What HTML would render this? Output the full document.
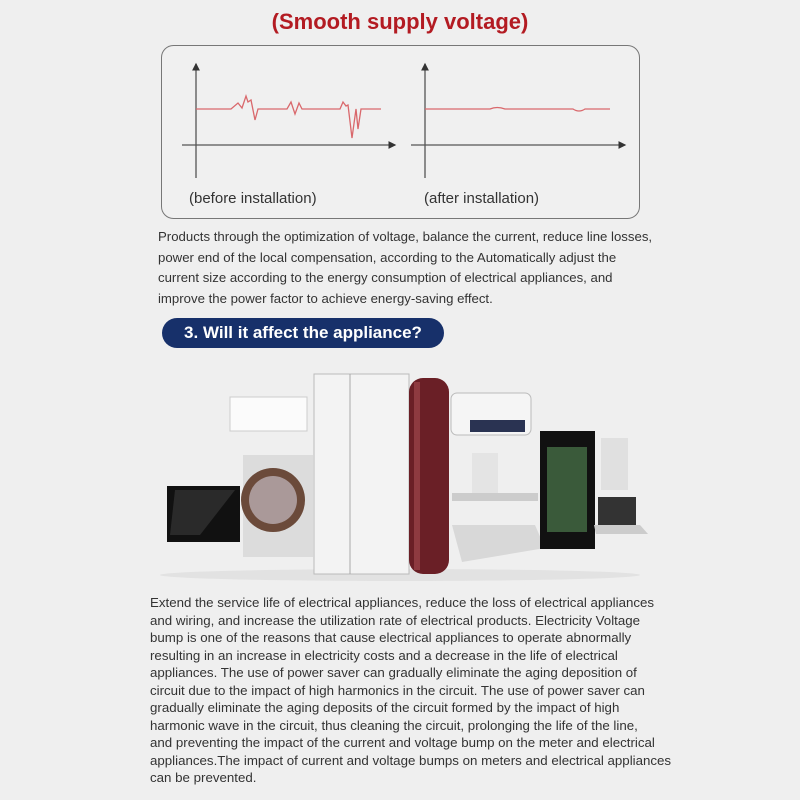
<!DOCTYPE html>
<html><head><style>
body{margin:0;width:800px;height:800px;background:#efefef;overflow:hidden;position:relative;font-family:"Liberation Sans",sans-serif}
.t{position:absolute;left:0;width:800px;top:9px;text-align:center;color:#b31b22;font-size:22px;font-weight:bold}
.p1{position:absolute;left:158px;top:227px;white-space:nowrap;font-size:13.2px;line-height:20.7px;color:#333}
.btn{position:absolute;left:162px;top:318px;width:282px;height:30px;border-radius:15px;background:#17306a;color:#fff;font-weight:bold;font-size:17px;line-height:30px;text-align:center}
.p2{position:absolute;left:150px;top:594px;white-space:nowrap;font-size:13.3px;line-height:17.5px;color:#333}
</style></head><body>
<div class="t">(Smooth supply voltage)</div>
<svg width="800" height="800" style="position:absolute;left:0;top:0">
<defs><marker id="a" markerWidth="6" markerHeight="6" refX="5" refY="3" orient="auto"><path d="M0,0L6,3L0,6z" fill="#333"/></marker></defs>
<rect x="161.5" y="45.5" width="478" height="173" rx="12" fill="#f0f0f0" stroke="#777"/>
<g stroke="#555" stroke-width="1.3" fill="none">
<line x1="196" y1="178" x2="196" y2="64" marker-end="url(#a)"/>
<line x1="182" y1="145" x2="395" y2="145" marker-end="url(#a)"/>
<line x1="425" y1="178" x2="425" y2="64" marker-end="url(#a)"/>
<line x1="411" y1="145" x2="625" y2="145" marker-end="url(#a)"/>
</g>
<g stroke="#d9686c" stroke-width="1.3" fill="none">
<polyline points="196,109 231,109 238,103 242,108 246,96 248,102 251,100 255,120 258,109 287,109 291,102 295,114 299,103 302,109 340,109 343,102 346,106 348,105 352,138 356,109 358,129 361,109 381,109"/>
<path d="M425,109 L490,109 Q497,106 505,109 L573,109 Q579,113 585,109 L610,109"/>
</g>
<text x="189" y="203" font-size="15" fill="#333" font-family="Liberation Sans">(before installation)</text>
<text x="424" y="203" font-size="15" fill="#333" font-family="Liberation Sans">(after installation)</text>
<ellipse cx="400" cy="575" rx="240" ry="6" fill="#e2e2e2"/>
<rect x="167" y="486" width="73" height="56" fill="#111"/>
<polygon points="175,490 235,490 200,535 170,535" fill="#2a2a2a"/>
<rect x="230" y="397" width="77" height="34" fill="#fbfbfb" stroke="#ccc"/>
<rect x="243" y="455" width="70" height="102" fill="#dcdcdc"/>
<circle cx="273" cy="500" r="32" fill="#6b4a3a"/><circle cx="273" cy="500" r="24" fill="#a99"/>
<rect x="314" y="374" width="95" height="200" fill="#f3f3f3" stroke="#bbb"/>
<line x1="350" y1="374" x2="350" y2="574" stroke="#aaa"/>
<rect x="409" y="378" width="40" height="196" rx="14" fill="#6a1f26"/>
<rect x="414" y="382" width="6" height="188" fill="#8e3a40"/>
<rect x="451" y="393" width="80" height="42" rx="6" fill="#f5f5f5" stroke="#bbb"/>
<rect x="470" y="420" width="55" height="12" fill="#2a3352"/>
<rect x="472" y="453" width="26" height="42" fill="#e4e4e4"/>
<rect x="452" y="493" width="86" height="8" fill="#ccc"/>
<polygon points="452,525 535,525 545,548 462,562" fill="#d8d8d8"/>
<rect x="540" y="431" width="55" height="118" fill="#111"/>
<rect x="547" y="447" width="40" height="85" fill="#3a5a3a"/>
<rect x="601" y="438" width="27" height="52" fill="#e0e0e0"/>
<rect x="598" y="497" width="38" height="28" fill="#333"/>
<polygon points="594,525 640,525 648,534 596,534" fill="#ccc"/>
</svg>
<div class="p1">Products through the optimization of voltage, balance the current, reduce line losses,<br>power end of the local compensation, according to the Automatically adjust the<br>current size according to the energy consumption of electrical appliances, and<br>improve the power factor to achieve energy-saving effect.</div>
<div class="btn">3. Will it affect the appliance?</div>
<div class="p2">Extend the service life of electrical appliances, reduce the loss of electrical appliances<br>and wiring, and increase the utilization rate of electrical products. Electricity Voltage<br>bump is one of the reasons that cause electrical appliances to operate abnormally<br>resulting in an increase in electricity costs and a decrease in the life of electrical<br>appliances. The use of power saver can gradually eliminate the aging deposition of<br>circuit due to the impact of high harmonics in the circuit. The use of power saver can<br>gradually eliminate the aging deposits of the circuit formed by the impact of high<br>harmonic wave in the circuit, thus cleaning the circuit, prolonging the life of the line,<br>and preventing the impact of the current and voltage bump on the meter and electrical<br>appliances.The impact of current and voltage bumps on meters and electrical appliances<br>can be prevented.</div>
</body></html>
